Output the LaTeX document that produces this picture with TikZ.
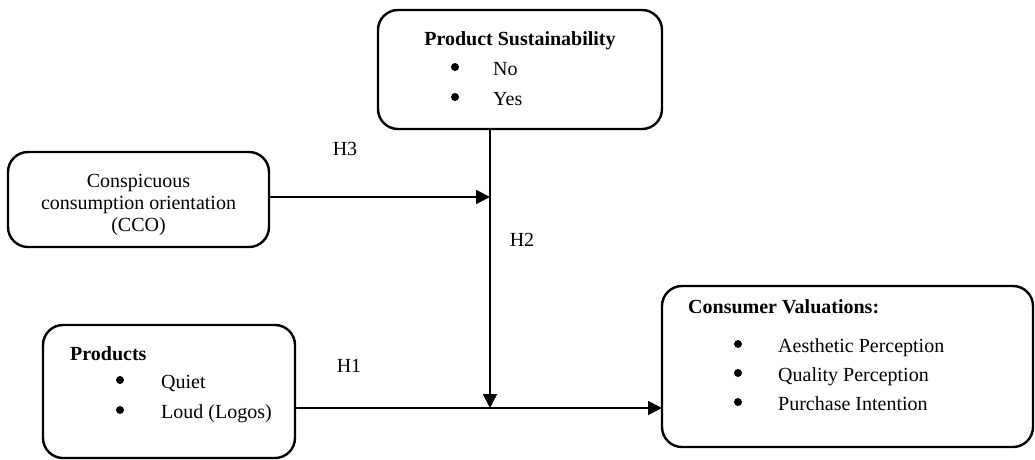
\documentclass[tikz,border=0pt]{standalone}
\usepackage{fontspec}
\setmainfont{Liberation Serif}
\usetikzlibrary{arrows.meta, positioning}
\tikzset{
  box/.style = {rectangle, rounded corners=20pt, draw=black, line width=2.4pt, inner sep=0pt, outer sep=0pt},
  txt/.style = {inner sep=0pt, font=\fontsize{20}{24}\selectfont},
  head/.style = {inner sep=0pt, font=\fontsize{20}{24}\selectfont\bfseries},
  bul/.style = {circle, fill=black, inner sep=0pt, minimum size=8pt},
  item/.style = {txt, anchor=base west},
  line/.style = {-{Triangle[length=14pt,width=14pt]}, line width=1.8pt}
}

\begin{document}
\begin{tikzpicture}[x=1pt, y=-1pt]
\useasboundingbox (0,0) rectangle (1035,459);

% Boxes
\node[box, minimum width=284pt, minimum height=119pt] (sust) at (520,69.5) {};
\node[box, minimum width=261pt, minimum height=95pt] (cco) at (138.5,199.5) {};
\node[box, minimum width=252pt, minimum height=133pt] (prod) at (169,391.5) {};
\node[box, minimum width=371pt, minimum height=161pt] (val) at (847.5,366.5) {};

% Product sustainability
\node[head, anchor=base] (sustT) at (520,45) {Product Sustainability};
\node[bul] (sustB1) at (455,67) {};
\node[item] (sustI1) at (493,75) {No};
\node[bul] (sustB2) at (455,97) {};
\node[item] (sustI2) at (493,105) {Yes};

% CCO
\node[txt, anchor=base] (ccoT1) at (138.5,187) {Conspicuous};
\node[txt, anchor=base] (ccoT2) at (138.5,209) {consumption orientation};
\node[txt, anchor=base] (ccoT3) at (138.5,231) {(CCO)};

% Products
\node[head, anchor=base west] (prodT) at (70,360) {Products};
\node[bul] (prodB1) at (120,380) {};
\node[item] (prodI1) at (161,388) {Quiet};
\node[bul] (prodB2) at (120,410) {};
\node[item] (prodI2) at (161,418) {Loud (Logos)};

% Consumer valuations
\node[head, anchor=base west] (valT) at (688,313) {Consumer Valuations:};
\node[bul] (valB1) at (738,344) {};
\node[item] (valI1) at (778,352) {Aesthetic Perception};
\node[bul] (valB2) at (738,373) {};
\node[item] (valI2) at (778,381) {Quality Perception};
\node[bul] (valB3) at (738,402) {};
\node[item] (valI3) at (778,410) {Purchase Intention};

% Hypotheses
\node[txt, anchor=base] (h3) at (345,155) {H3};
\node[txt, anchor=base] (h2) at (522,246) {H2};
\node[txt, anchor=base] (h1) at (349,372) {H1};

% Arrows
\coordinate (mod) at (490,197);
\coordinate (main) at (490,408);
\draw[line] (sust.south -| main) -- (main);
\draw[line] (cco.east |- mod) -- (mod);
\draw[line width=1.8pt] (prod.east |- main) -- (main);
\draw[line] (main) -- (val.west |- main);

\end{tikzpicture}
\end{document}
